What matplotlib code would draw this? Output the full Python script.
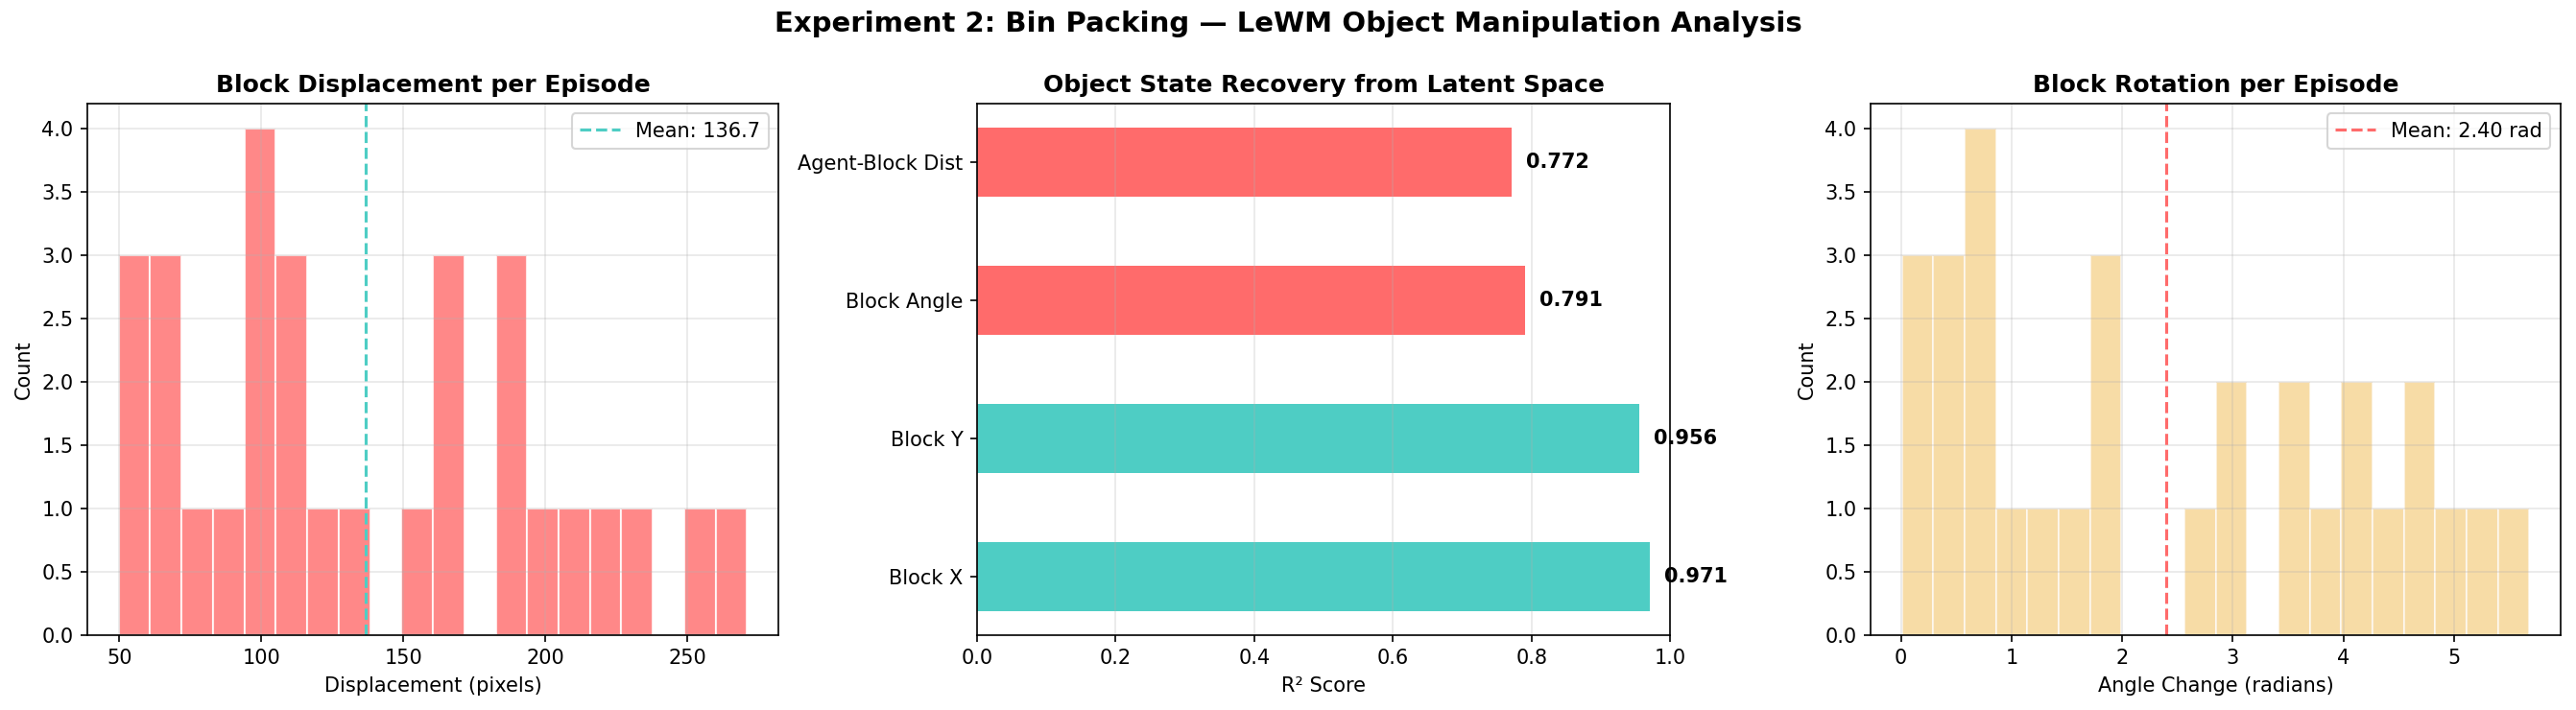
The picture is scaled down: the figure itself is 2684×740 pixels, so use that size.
import numpy as np
import matplotlib
matplotlib.use("Agg")
import matplotlib.pyplot as plt

# histogram of block displacement, 20 bins
disp_counts = [3, 3, 1, 1, 4, 3, 1, 1, 0, 1, 3, 0, 3, 1, 1, 1, 1, 0, 1, 1]
disp_range = (49.8, 271.0)
disp_mean = 136.7

# histogram of block rotation, 20 bins
rot_counts = [3, 3, 4, 1, 1, 1, 3, 0, 0, 1, 2, 0, 2, 1, 2, 1, 2, 1, 1, 1]
rot_range = (0.01, 5.68)
rot_mean = 2.40

# R^2 probe scores
probe_names = ["Block X", "Block Y", "Block Angle", "Agent-Block Dist"]
probe_r2 = [0.971, 0.956, 0.791, 0.772]

fig = plt.figure(figsize=(2684 / 150, 740 / 150), dpi=150)
bottom, top = 0.1058, 0.854
ax1 = fig.add_axes([0.0339, bottom, 0.3022 - 0.0339, top - bottom])
ax2 = fig.add_axes([0.3793, bottom, 0.6483 - 0.3793, top - bottom])
ax3 = fig.add_axes([0.7262, bottom, 0.9940 - 0.7262, top - bottom])

# displacement
edges = np.linspace(disp_range[0], disp_range[1], len(disp_counts) + 1)
ax1.hist(edges[:-1], bins=edges, weights=disp_counts, color="#FF6B6B",
         alpha=0.8, edgecolor="white")
ax1.axvline(disp_mean, color="#4ECDC4", linestyle="--", linewidth=1.5,
            label=f"Mean: {disp_mean:.1f}")
ax1.set_xlabel("Displacement (pixels)")
ax1.set_ylabel("Count")
ax1.set_title("Block Displacement per Episode", fontsize=12, fontweight="bold")
ax1.legend(loc="upper right")
ax1.grid(True, alpha=0.3)

# probe results
colors = ["#4ECDC4" if v > 0.9 else "#FF6B6B" for v in probe_r2]
ypos = np.arange(len(probe_names))
ax2.barh(ypos, probe_r2, height=0.5, color=colors)
ax2.set_yticks(ypos)
ax2.set_yticklabels(probe_names)
for y, v in zip(ypos, probe_r2):
    ax2.text(v + 0.02, y, f"{v:.3f}", va="center", fontweight="bold")
ax2.set_xlim(0, 1)
ax2.set_xlabel("R² Score")
ax2.set_title("Object State Recovery from Latent Space", fontsize=12, fontweight="bold")
ax2.grid(True, axis="x", alpha=0.3)

# rotation
edges = np.linspace(rot_range[0], rot_range[1], len(rot_counts) + 1)
ax3.hist(edges[:-1], bins=edges, weights=rot_counts, color="#F3C56B",
         alpha=0.6, edgecolor="white")
ax3.axvline(rot_mean, color="#FF6B6B", linestyle="--", linewidth=1.5,
            label=f"Mean: {rot_mean:.2f} rad")
ax3.set_xlabel("Angle Change (radians)")
ax3.set_ylabel("Count")
ax3.set_title("Block Rotation per Episode", fontsize=12, fontweight="bold")
ax3.legend(loc="upper right")
ax3.grid(True, alpha=0.3)

fig.suptitle("Experiment 2: Bin Packing — LeWM Object Manipulation Analysis",
             fontsize=14, fontweight="bold", y=0.985)

plt.savefig("out.png", dpi=150)
